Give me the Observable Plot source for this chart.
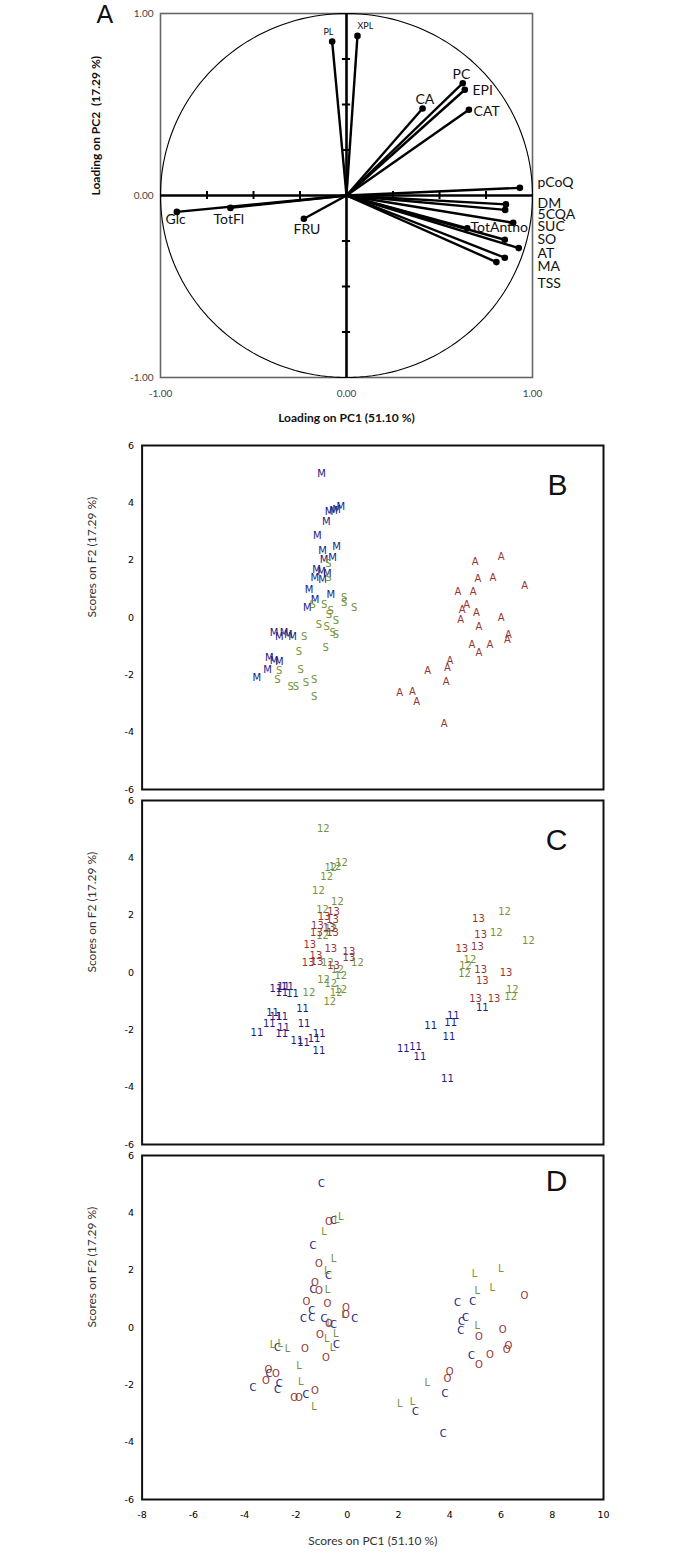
<!DOCTYPE html>
<html><head><meta charset="utf-8">
<script src="https://cdn.jsdelivr.net/npm/d3@7"></script>
<script src="https://cdn.jsdelivr.net/npm/@observablehq/plot@0.6"></script>
<style>
body{margin:0;background:#fff;}
#wrap{position:relative;width:700px;height:1560px;background:#fff;}
#a{position:absolute;left:0;top:0;}
#bcd{position:absolute;left:0;top:430px;}
</style></head><body><div id="wrap"><div id="a"></div><div id="bcd"></div></div>
<script>
// ---------- Panel A: loadings ----------
const variables   = ["PL","XPL","PC","EPI","CA","CAT","pCoQ","DM","5CQA","SUC","TotAntho","SO","AT","MA","TSS","Glc","TotFl","FRU"];
const loadingPC1  = [-0.077,0.059,0.625,0.636,0.409,0.658,0.932,0.857,0.853,0.896,0.649,0.851,0.926,0.851,0.806,-0.912,-0.624,-0.229];
const loadingPC2  = [0.846,0.877,0.617,0.581,0.478,0.471,0.042,-0.049,-0.079,-0.150,-0.180,-0.243,-0.289,-0.342,-0.366,-0.090,-0.068,-0.128];
const axisTicksA  = [-1, 0, 1];
const axisMarksA  = [-0.75,-0.5,-0.25,0.25,0.5,0.75];
// label anchor positions (annotation layout, data units)
const labelLayout = {
  PL:[-0.124,0.896], XPL:[0.059,0.929], PC:[0.570,0.665], EPI:[0.677,0.577], CA:[0.371,0.527], CAT:[0.683,0.462],
  pCoQ:[1.027,0.071], DM:[1.027,-0.044], "5CQA":[1.027,-0.104], SUC:[1.027,-0.170], SO:[1.027,-0.242],
  AT:[1.027,-0.319], MA:[1.027,-0.390], TSS:[1.027,-0.484], TotAntho:[0.667,-0.176],
  Glc:[-0.973,-0.132], TotFl:[-0.715,-0.132], FRU:[-0.285,-0.187]
};
const smallLabels = ["PL","XPL"];

// ---------- Panels B, C, D: scores ----------
const scoresM = [[-1.00,5.01],[-0.71,3.68],[-0.53,3.72],[-0.41,3.77],[-0.25,3.85],[-0.81,3.33],[-1.16,2.85],[-0.96,2.31],[-0.41,2.45],[-0.90,2.02],[-0.57,2.07],[-1.19,1.67],[-1.00,1.59],[-0.77,1.52],[-1.26,1.38],[-0.96,1.33],[-1.49,0.97],[-0.64,0.80],[-1.25,0.62],[-1.55,0.33],[-2.85,-0.54],[-2.65,-0.66],[-2.46,-0.54],[-2.30,-0.62],[-2.13,-0.68],[-3.04,-1.41],[-2.85,-1.50],[-2.65,-1.55],[-3.11,-1.82],[-3.52,-2.11]];
const scoresS = [[-0.12,0.68],[-0.12,0.51],[0.27,0.33],[-0.90,0.45],[-0.64,0.24],[-0.71,0.10],[-0.44,-0.13],[-1.10,-0.25],[-0.80,-0.31],[-0.57,-0.54],[-0.44,-0.60],[-1.68,-0.68],[-0.84,-1.04],[-1.88,-1.20],[-1.81,-1.82],[-2.65,-1.87],[-2.72,-2.16],[-2.20,-2.40],[-2.00,-2.40],[-1.61,-2.28],[-1.29,-2.16],[-1.29,-2.75],[-0.73,1.86],[-0.73,1.40],[-1.35,0.45]];
const scoresA = [[4.99,1.93],[6.01,2.13],[5.10,1.36],[5.69,1.40],[6.92,1.11],[4.32,0.88],[4.92,0.91],[4.66,0.43],[4.49,0.27],[5.04,0.15],[4.43,-0.07],[6.01,-0.02],[5.14,-0.31],[6.29,-0.60],[6.25,-0.77],[4.87,-0.95],[5.57,-0.95],[5.14,-1.24],[4.01,-1.50],[3.91,-1.76],[3.14,-1.87],[3.86,-2.26],[2.05,-2.64],[2.55,-2.60],[2.71,-2.94],[3.78,-3.71]];

const scores11 = [[-2.78,-0.56],[-2.48,-0.49],[-2.33,-0.49],[-2.55,-0.72],[-2.13,-0.75],[-1.74,-1.25],[-2.91,-1.42],[-2.78,-1.53],[-2.55,-1.54],[-3.04,-1.80],[-2.48,-1.92],[-1.68,-1.80],[-3.52,-2.12],[-2.55,-2.15],[-1.96,-2.39],[-1.70,-2.44],[-1.29,-2.33],[-1.09,-2.15],[-1.10,-2.73],[5.27,-1.22],[4.14,-1.52],[4.04,-1.77],[3.26,-1.86],[3.97,-2.25],[2.19,-2.65],[2.67,-2.60],[2.84,-2.93],[3.91,-3.72]];
const scores12 = [[-0.93,5.00],[-0.64,3.65],[-0.47,3.69],[-0.22,3.83],[-0.80,3.33],[-1.12,2.84],[-0.38,2.46],[-0.96,2.20],[-0.96,1.27],[0.40,0.34],[-0.38,0.11],[-0.25,-0.12],[-0.92,-0.26],[-0.64,-0.38],[-1.49,-0.70],[-0.43,-0.70],[-0.25,-0.61],[-0.68,-1.03],[-0.64,1.51],[-0.77,0.34],[6.14,2.11],[5.82,1.39],[7.07,1.10],[4.79,0.43],[4.62,0.23],[4.58,-0.06],[6.44,-0.61],[6.38,-0.84]];
const scores13 = [[-0.53,2.11],[-0.90,1.95],[-0.57,1.85],[-1.16,1.64],[-0.70,1.56],[-1.20,1.37],[-0.57,1.37],[-1.46,0.95],[-0.64,0.83],[0.07,0.71],[0.07,0.52],[-1.22,0.60],[-1.52,0.34],[-1.18,0.36],[-0.53,0.25],[5.12,1.88],[5.21,1.30],[4.47,0.84],[5.08,0.89],[5.21,0.11],[6.20,0.00],[5.27,-0.30],[5.01,-0.91],[5.73,-0.93]];

const scoresC = [[-1.00,5.00],[-0.53,3.72],[-1.33,2.84],[-0.73,1.82],[-1.33,1.30],[-1.38,0.60],[-1.70,0.31],[-1.38,0.34],[-0.90,0.31],[-0.53,0.08],[0.30,0.31],[-0.42,-0.62],[-2.72,-0.70],[-3.05,-1.61],[-2.65,-1.95],[-2.72,-2.16],[-3.67,-2.10],[-1.61,-2.36],[4.30,0.85],[4.90,0.91],[4.62,0.34],[4.46,0.19],[4.43,-0.10],[4.85,-1.00],[3.82,-2.30],[2.67,-2.94],[3.75,-3.70]];
const scoresL = [[-0.41,3.77],[-0.25,3.85],[-0.90,3.35],[-0.53,2.38],[-0.80,1.99],[-0.77,1.30],[-0.12,0.46],[-0.70,0.16],[-0.44,-0.21],[-0.80,-0.39],[-0.57,-0.70],[-2.91,-0.62],[-2.61,-0.58],[-2.33,-0.76],[-1.88,-1.32],[-1.81,-1.89],[-1.29,-2.77],[4.97,1.88],[5.99,2.05],[5.08,1.27],[5.66,1.39],[5.08,0.05],[3.13,-1.93],[2.05,-2.65],[2.55,-2.59]];
const scoresO = [[-0.71,3.68],[-1.10,2.21],[-1.26,1.56],[-1.10,1.27],[-1.59,0.89],[-0.77,0.81],[-0.05,0.69],[-0.05,0.43],[-0.71,0.14],[-1.06,-0.27],[-1.65,-0.76],[-0.83,-1.05],[-3.07,-1.49],[-2.78,-1.61],[-3.17,-1.87],[-2.07,-2.46],[-1.88,-2.46],[-1.26,-2.22],[6.92,1.09],[6.07,-0.08],[5.14,-0.33],[6.29,-0.65],[6.22,-0.79],[5.57,-0.94],[5.14,-1.29],[4.00,-1.55],[3.91,-1.78]];

const panels = ["B","C","D"];
const xTicksScores = [-8,-6,-4,-2,0,2,4,6,8,10];
const yTicksScores = [-6,-4,-2,0,2,4,6];

const BLUE = "#1b1b80", GREEN = "#76923c", RED = "#963634";

// ---------- build tables ----------
const loadings = variables.map((v,i)=>({name:v, x:loadingPC1[i], y:loadingPC2[i], lx:labelLayout[v][0], ly:labelLayout[v][1]}));
const circle = d3.range(0, 361, 2).map(a=>({x:Math.cos(a*Math.PI/180), y:Math.sin(a*Math.PI/180)}));

const pts = [];
function add(panel, label, color, arr){ for (const [x,y] of arr) pts.push({panel,label,color,x,y}); }
add("B","M",BLUE,scoresM); add("B","S",GREEN,scoresS); add("B","A",RED,scoresA);
add("C","11",BLUE,scores11); add("C","12",GREEN,scores12); add("C","13",RED,scores13);
add("D","C",BLUE,scoresC); add("D","L",GREEN,scoresL); add("D","O",RED,scoresO);

const fmt2 = d => d.toFixed(2);

const plotA = Plot.plot({
  width: 700, height: 430,
  marginLeft: 160, marginRight: 168, marginTop: 13, marginBottom: 53,
  x: {domain:[-1,1], ticks: axisTicksA, tickFormat: fmt2, tickSize: 0, tickPadding: 12, label: null},
  y: {domain:[-1,1], ticks: axisTicksA, tickFormat: fmt2, tickSize: 0, tickPadding: 7, label: null},
  style: {fontFamily: "Lato", fontSize: "10px", color: "#444", background: "transparent"},
  marks: [
    Plot.frame({stroke:"#666", strokeWidth:1.6}),
    Plot.line(circle, {x:"x", y:"y", stroke:"black", strokeWidth:1.1}),
    Plot.ruleY([0], {x1:-1, x2:1, stroke:"black", strokeWidth:2.6}),
    Plot.ruleX([0], {y1:-1, y2:1, stroke:"black", strokeWidth:2.6}),
    Plot.ruleX(axisMarksA, {y1:-0.022, y2:0.022, stroke:"black", strokeWidth:2}),
    Plot.ruleY(axisMarksA, {x1:-0.022, x2:0.022, stroke:"black", strokeWidth:2}),
    Plot.link(loadings, {x1:0, y1:0, x2:"x", y2:"y", stroke:"black", strokeWidth:2.4}),
    Plot.dot(loadings, {x:"x", y:"y", r:3.3, fill:"black"}),
    Plot.text(loadings.filter(d=>!smallLabels.includes(d.name)), {x:"lx", y:"ly", text:"name", textAnchor:"start", fontSize:14, fill:"#111", fontFamily:"Lato"}),
    Plot.text(loadings.filter(d=>smallLabels.includes(d.name)), {x:"lx", y:"ly", text:"name", textAnchor:"start", fontSize:9, fill:"#111", fontFamily:"Lato"}),
    Plot.text(["A"], {frameAnchor:"top-left", text:d=>d, dx:-64, dy:1, lineAnchor:"middle", fontSize:25, fill:"#111", fontFamily:"Liberation Sans"}),
    Plot.text(["Loading on PC2  (17.29 %)"], {frameAnchor:"left", text:d=>d, rotate:-90, dx:-64, fontSize:12, fontWeight:"bold", fill:"#111", fontFamily:"Lato"}),
    Plot.text(["Loading on PC1 (51.10 %)"], {frameAnchor:"bottom", text:d=>d, dy:41, lineAnchor:"middle", fontSize:12, fontWeight:"bold", fill:"#111", fontFamily:"Lato"})
  ]
});
document.getElementById("a").append(plotA);

const letterDy = {B:40, C:40, D:26};
const plotBCD = Plot.plot({
  width: 700, height: 1130,
  marginLeft: 141.6, marginRight: 97, marginTop: 14, marginBottom: 60,
  x: {domain:[-8,10], ticks: xTicksScores, tickFormat: d=>String(d), tickSize: 0, tickPadding: 12, label: null},
  y: {domain:[-6,6], ticks: yTicksScores, tickFormat: d=>String(d), tickSize: 0, tickPadding: 8, label: null},
  fy: {domain: panels, paddingInner: 0.03, paddingOuter: 0, axis: null, label: null},
  color: {type: "identity"},
  style: {fontFamily: "DejaVu Sans", fontSize: "9.5px", color: "#000", background: "transparent"},
  marks: [
    Plot.frame({stroke:"#111", strokeWidth:2}),
    Plot.text(pts, {x:"x", y:"y", fy:"panel", text:"label", fill:"color", fontSize:10, fontFamily:"DejaVu Sans"}),
    ...panels.map(p => Plot.text([p], {fy:d=>d, text:d=>d, frameAnchor:"top-right", dx:-36, dy:letterDy[p], lineAnchor:"middle", fontSize:30, fill:"#111", fontFamily:"Liberation Sans"})),
    Plot.text(panels, {fy:d=>d, text:()=>"Scores on F2 (17.29 %)", frameAnchor:"left", rotate:-90, dx:-50, fontSize:12, fill:"#333", fontFamily:"Lato"}),
    Plot.text(["D"], {fy:d=>d, text:()=>"Scores on PC1 (51.10 %)", frameAnchor:"bottom", dy:42, lineAnchor:"middle", fontSize:12, fill:"#333", fontFamily:"Lato"})
  ]
});
document.getElementById("bcd").append(plotBCD);
</script></body></html>
